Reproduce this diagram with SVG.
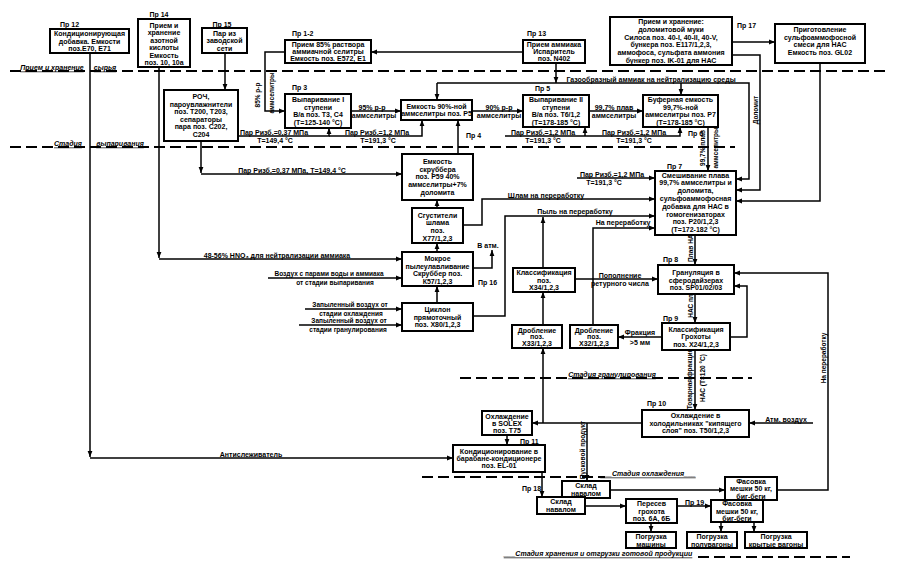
<svg xmlns="http://www.w3.org/2000/svg" width="901" height="567" viewBox="0 0 901 567">
<style>
text{font-family:"Liberation Sans",Arial,sans-serif;font-weight:bold;font-size:7px;fill:#000;text-anchor:middle;dominant-baseline:central}
.l{text-anchor:start}
.sm{font-size:6.5px}
.st{font-style:italic;text-decoration:underline;font-size:7px}
.n rect{fill:#fff;stroke:#000;stroke-width:2}
.c path{fill:none;stroke:#000;stroke-width:1.5;marker-end:url(#a)}
.d line{stroke:#000;stroke-width:2;stroke-dasharray:11 5}
</style>
<defs>
<marker id="a" viewBox="0 0 10 10" refX="10" refY="5" markerWidth="6" markerHeight="6" markerUnits="userSpaceOnUse" orient="auto"><path d="M0,1 L10,5 L0,9 z"/></marker>
</defs>
<rect width="901" height="567" fill="#fff"/>

<g id="stages" class="d">
<line x1="10" y1="71" x2="890" y2="71"/>
<line x1="10" y1="147" x2="735" y2="147"/>
<line x1="460" y1="378" x2="752" y2="378"/>
<line x1="422" y1="477" x2="605" y2="477"/>
<line x1="698" y1="557" x2="850" y2="557"/>
</g>
<g id="stage-labels">
<text class="st" x="52" y="67">Прием и хранение</text>
<text class="st" x="105" y="67">сырья</text>
<text class="st" x="68" y="143">Стадия</text>
<text class="st" x="120" y="143">выпаривания</text>
<text class="st" x="612" y="374">Стадия гранулирования</text>
<text class="st" x="648" y="473">___Стадия охлаждения___</text>
<text class="st" x="598" y="553">___Стадия хранения и отгрузки готовой продукции</text>
</g>

<g id="connectors" class="c">
<path d="M90,53 V457"/><path d="M90,458 H453"/>
<path d="M159,67 V258"/><path d="M159,259 H402"/>
<path d="M225,53 V90"/>
<path d="M201,141 V173"/><path d="M201,174 H402"/>
<path d="M238,136 H329 V128"/>
<path d="M329,136 H422 V120"/>
<path d="M285,52 H265 V111 H285"/>
<path d="M523,52 H371"/>
<path d="M556,63 V83"/>
<path d="M437,83 H749 V179 H736"/>
<path d="M437,83 V100"/>
<path d="M681,83 V95"/>
<path d="M351,111 H401"/>
<path d="M472,111 H523"/>
<path d="M589,111 H643"/>
<path d="M505,136 H680 V127"/>
<path d="M585,136 V127"/>
<path d="M708,127 V171"/>
<path d="M732,42 H775"/>
<path d="M732,55 H760 V190 H736"/>
<path d="M820,63 V201 H736"/>
<path d="M458,154 V120"/>
<path d="M437,208 V200"/>
<path d="M437,252 V243"/>
<path d="M437,303 V286"/>
<path d="M473,268 H492 V250"/>
<path d="M463,225 H482 V199 H655"/>
<path d="M473,316 H505 V216 H655"/>
<path d="M543,268 V217"/>
<path d="M543,325 V292"/>
<path d="M642,423 H532"/>
<path d="M543,423 V348"/>
<path d="M587,423 V481"/>
<path d="M575,279 H658"/>
<path d="M593,325 V228 H655"/>
<path d="M577,178 H655"/>
<path d="M695,235 V265"/>
<path d="M695,294 V323"/>
<path d="M662,337 H618"/>
<path d="M730,337 H747 V286 H734"/>
<path d="M695,350 V410"/>
<path d="M813,423 H749"/>
<path d="M507,435 V445"/>
<path d="M542,472 V497"/>
<path d="M610,490 H725"/>
<path d="M585,506 H626"/>
<path d="M677,506 H711"/>
<path d="M651,523 V532"/>
<path d="M721,522 V532"/>
<path d="M754,522 V532"/>
<path d="M777,490 H828 V273 H734"/>
<path d="M268,278 H402"/>
<path d="M305,309 H402"/>
<path d="M299,325 H402"/>
</g>

<g id="connector-labels">
<text x="274" y="132.5">Пар Ризб.=0,37 МПа</text>
<text x="275" y="140">T=149,4 °С</text>
<text x="377" y="132.5">Пар Ризб.=1,2 МПа</text>
<text x="378" y="140">T=191,3 °С</text>
<text x="543" y="132.5">Пар Ризб.=1,2 МПа</text>
<text x="543" y="140">T=191,3 °С</text>
<text x="634" y="132.5">Пар Ризб.=1,2 МПа</text>
<text x="634" y="140">T=191,3 °С</text>
<text x="292" y="170.5">Пар Ризб.=0,37 МПа, T=149,4 °С</text>
<text x="612" y="174">Пар Ризб.=1,2 МПа</text>
<text x="604" y="182">T=191,3 °С</text>
<text x="372" y="107">95% р-р</text>
<text x="374" y="115.5">аммселитры</text>
<text x="499" y="107">90% р-р</text>
<text x="499" y="115.5">аммселитры</text>
<text x="614" y="107">99,7% плав</text>
<text x="614" y="115.5">аммселитры</text>
<text x="651" y="79">Газообразный аммиак на нейтрализацию среды</text>
<text x="546" y="195">Шлам на переработку</text>
<text x="575" y="211.5">Пыль на переработку</text>
<text x="623" y="222.5">На переработку</text>
<text x="488" y="245">В атм.</text>
<text x="277" y="255.5">48-56% HNO₃ для нейтрализации аммиака</text>
<text class="sm" x="329" y="273.5">Воздух с парами воды и аммиака</text>
<text class="sm" x="335" y="282.5">от стадии выпаривания</text>
<text class="sm" x="350" y="304.5">Запыленный воздух от</text>
<text class="sm" x="351" y="313">стадии охлаждения</text>
<text class="sm" x="349" y="320.5">Запыленный воздух от</text>
<text class="sm" x="348" y="329.5">стадии гранулирования</text>
<text x="620" y="275">Пополнение</text>
<text x="620" y="283.5">ретурного числа</text>
<text x="640" y="332">Фракция</text>
<text x="640" y="342">&gt;5 мм</text>
<text x="786" y="419">Атм. воздух</text>
<text x="251" y="454">Антислеживатель</text>
<text class="sm" transform="translate(257,95) rotate(-90)">85% р-р</text>
<text class="sm" transform="translate(271,93) rotate(-90)">аммселитры</text>
<text class="sm" transform="translate(702,148) rotate(-90)">99,7% плав</text>
<text class="sm" transform="translate(715,148) rotate(-90)">аммселитры</text>
<text class="sm" transform="translate(755,110) rotate(-90)">Доломит</text>
<text class="sm" transform="translate(690,246) rotate(-90)">Плав НАС</text>
<text class="sm" transform="translate(690,305) rotate(-90)">НАС пл.</text>
<text class="sm" transform="translate(689,379) rotate(-90)">Товарная фракция</text>
<text class="sm" transform="translate(702,378) rotate(-90)">НАС (T=120 °С)</text>
<text class="sm" transform="translate(582,450) rotate(-90)">Пусковой продукт</text>
<text class="sm" transform="translate(823,358) rotate(-90)">На переработку</text>
</g>

<g id="pr12" class="n"><rect x="50" y="29" width="79" height="24"/><text class="l" x="60" y="24.5">Пр 12</text>
<text x="89.5" y="33.5">Кондиционирующая</text><text x="89.5" y="41">добавка. Емкости</text><text x="89.5" y="48.5">поз.E70, E71</text></g>
<g id="pr14" class="n"><rect x="138" y="19" width="52" height="48"/><text x="159" y="14">Пр 14</text>
<text x="164" y="25">Прием и</text><text x="164" y="32.5">хранение</text><text x="164" y="40">азотной</text><text x="164" y="47.5">кислоты</text><text x="164" y="55">Емкость</text><text x="164" y="62">поз. 10, 10а</text></g>
<g id="pr15" class="n"><rect x="202" y="28" width="45" height="25"/><text x="222" y="24.5">Пр 15</text>
<text x="224.5" y="33">Пар из</text><text x="224.5" y="40.5">заводской</text><text x="224.5" y="48">сети</text></g>
<g id="roch" class="n"><rect x="164" y="90" width="74" height="51"/>
<text x="201" y="96.5">РОЧ,</text><text x="201" y="104">пароувлажнители</text><text x="201" y="111.5">поз. Т200, Т203,</text><text x="201" y="119">сепараторы</text><text x="201" y="126.5">пара поз. С202,</text><text x="201" y="134">С204</text></g>
<g id="pr1-2" class="n"><rect x="285" y="40" width="86" height="23"/><text class="l" x="292" y="33.5">Пр 1-2</text>
<text x="328" y="44.5">Прием 85% раствора</text><text x="328" y="51.5">аммиачной селитры</text><text x="328" y="58.5">Емкость поз. E572, E1</text></g>
<g id="pr13" class="n"><rect x="523" y="40" width="62" height="23"/><text class="l" x="527" y="33.5">Пр 13</text>
<text x="554" y="44.5">Прием аммиака</text><text x="554" y="51.5">Испаритель</text><text x="554" y="58.5">поз. N402</text></g>
<g id="pr17" class="n"><rect x="610" y="17" width="122" height="48"/><text class="l" x="737" y="25">Пр 17</text>
<text x="671" y="21.5">Прием и хранение:</text><text x="671" y="29.2">доломитовой муки</text><text x="671" y="37">Силоса поз. 40-I, 40-II, 40-V,</text><text x="671" y="44.7">бункера поз. E117/1,2,3,</text><text x="671" y="52.4">аммофоса, сульфата аммония</text><text x="671" y="60">бункер поз. IK-01 для НАС</text></g>
<g id="prep" class="n"><rect x="775" y="24" width="90" height="39"/>
<text x="820" y="29.5">Приготовление</text><text x="820" y="37">сульфоаммофосной</text><text x="820" y="44.5">смеси для НАС</text><text x="820" y="52">Емкость поз. GL02</text></g>
<g id="pr3" class="n"><rect x="285" y="94" width="66" height="34"/><text class="l" x="292" y="87.5">Пр 3</text>
<text x="318" y="99.5">Выпаривание I</text><text x="318" y="107">ступени</text><text x="318" y="114.5">В/а поз. Т3, С4</text><text x="318" y="122">(T=125-140 °С)</text></g>
<g id="pr4" class="n"><rect x="401" y="100" width="71" height="20"/><text class="l" x="466" y="135">Пр 4</text>
<text x="436.5" y="106">Емкость 90%-ной</text><text x="436.5" y="113.5">аммселитры поз. Р5</text></g>
<g id="pr5" class="n"><rect x="523" y="95" width="66" height="32"/><text class="l" x="535" y="88">Пр 5</text>
<text x="556" y="99.5">Выпаривание II</text><text x="556" y="107">ступени</text><text x="556" y="114.5">В/а поз. Т6/1,2</text><text x="556" y="122">(T=178-185 °С)</text></g>
<g id="pr6" class="n"><rect x="643" y="95" width="75" height="32"/><text class="l" x="688" y="133">Пр 6</text>
<text x="680.5" y="99.5">Буферная емкость</text><text x="680.5" y="107">99,7%-ной</text><text x="680.5" y="114.5">аммселитры поз. Р7</text><text x="680.5" y="122">(T=178-185 °С)</text></g>
<g id="scrub" class="n"><rect x="402" y="154" width="71" height="46"/>
<text x="437.5" y="161.5">Емкость</text><text x="437.5" y="169.2">скруббера</text><text x="437.5" y="176.9">поз. Р59 40%</text><text x="437.5" y="184.6">аммселитры+7%</text><text x="437.5" y="192.3">доломита</text></g>
<g id="thick" class="n"><rect x="412" y="208" width="51" height="35"/>
<text x="437.5" y="215">Сгустители</text><text x="437.5" y="222.7">шлама</text><text x="437.5" y="230.4">поз.</text><text x="437.5" y="238">Х77/1,2,3</text></g>
<g id="pr16" class="n"><rect x="402" y="252" width="71" height="34"/><text class="l" x="478" y="282">Пр 16</text>
<text x="437.5" y="258.5">Мокрое</text><text x="437.5" y="266.2">пылеулавливание</text><text x="437.5" y="273.9">Скруббер поз.</text><text x="437.5" y="281.5">К57/1,2,3</text></g>
<g id="cyclone" class="n"><rect x="402" y="303" width="71" height="28"/>
<text x="437.5" y="309.5">Циклон</text><text x="437.5" y="317">прямоточный</text><text x="437.5" y="324.5">поз. Х80/1,2,3</text></g>
<g id="x34" class="n"><rect x="513" y="268" width="62" height="24"/>
<text x="544" y="272.5">Классификация</text><text x="544" y="280">поз.</text><text x="544" y="287">Х34/1,2,3</text></g>
<g id="x33" class="n"><rect x="512" y="325" width="50" height="23"/>
<text x="537" y="330">Дробление</text><text x="537" y="336.5">поз.</text><text x="537" y="343">Х33/1,2,3</text></g>
<g id="x32" class="n"><rect x="570" y="325" width="48" height="23"/>
<text x="594" y="330">Дробление</text><text x="594" y="336.5">поз.</text><text x="594" y="343">Х32/1,2,3</text></g>
<g id="pr7" class="n"><rect x="655" y="171" width="81" height="64"/><text class="l" x="667" y="166">Пр 7</text>
<text x="695.5" y="175">Смешивание плава</text><text x="695.5" y="182.8">99,7% аммселитры и</text><text x="695.5" y="190.6">доломита,</text><text x="695.5" y="198.4">сульфоаммофосная</text><text x="695.5" y="206.2">добавка для НАС в</text><text x="695.5" y="214">гомогенизаторах</text><text x="695.5" y="221.8">поз. Р20/1,2,3</text><text x="695.5" y="229.6">(T=172-182 °С)</text></g>
<g id="pr8" class="n"><rect x="658" y="265" width="76" height="29"/><text class="l" x="663" y="259">Пр 8</text>
<text x="696" y="272.5">Грануляция в</text><text x="696" y="280">сферодайзерах</text><text x="696" y="287.5">поз. SP01/02/03</text></g>
<g id="pr9" class="n"><rect x="662" y="323" width="68" height="27"/><text class="l" x="663" y="318">Пр 9</text>
<text x="696" y="329">Классификация</text><text x="696" y="336.5">Грохоты</text><text x="696" y="344">поз. Х24/1,2,3</text></g>
<g id="pr10" class="n"><rect x="642" y="410" width="107" height="27"/><text class="l" x="647" y="403">Пр 10</text>
<text x="695.5" y="415.5">Охлаждение в</text><text x="695.5" y="423">холодильниках "кипящего</text><text x="695.5" y="430.5">слоя" поз. Т50/1,2,3</text></g>
<g id="solex" class="n"><rect x="482" y="411" width="50" height="24"/>
<text x="507" y="416">Охлаждение</text><text x="507" y="423">в SOLEX</text><text x="507" y="430">поз. Т75</text></g>
<g id="pr11" class="n"><rect x="453" y="445" width="92" height="27"/><text class="l" x="520" y="441">Пр 11</text>
<text x="499" y="451.5">Кондиционирование в</text><text x="499" y="458.5">барабане-кондиционере</text><text x="499" y="465.5">поз. EL-01</text></g>
<g id="sklad2" class="n"><rect x="562" y="481" width="48" height="17"/>
<text x="586" y="485.5">Склад</text><text x="586" y="493">навалом</text></g>
<g id="pr18" class="n"><rect x="537" y="497" width="48" height="17"/><text class="l" x="522" y="488">Пр 18</text>
<text x="561" y="501.5">Склад</text><text x="561" y="509">навалом</text></g>
<g id="peresev" class="n"><rect x="626" y="499" width="51" height="24"/>
<text x="651.5" y="503.5">Пересев</text><text x="651.5" y="511">грохота</text><text x="651.5" y="518.5">поз. 6А, 6Б</text></g>
<g id="fas1" class="n"><rect x="725" y="477" width="52" height="23"/>
<text x="751" y="481">Фасовка</text><text x="751" y="488.5">мешки 50 кг,</text><text x="751" y="496">биг-беги</text></g>
<g id="pr19" class="n"><rect x="711" y="500" width="52" height="22"/><text class="l" x="685" y="502">Пр 19</text>
<text x="737" y="503.5">Фасовка</text><text x="737" y="511">мешки 50 кг,</text><text x="737" y="518">биг-беги</text></g>
<g id="pogr1" class="n"><rect x="626" y="532" width="50" height="16"/>
<text x="651" y="536.5">Погрузка</text><text x="651" y="544">машины</text></g>
<g id="pogr2" class="n"><rect x="687" y="532" width="50" height="16"/>
<text x="712" y="536.5">Погрузка</text><text x="712" y="544">полувагоны</text></g>
<g id="pogr3" class="n"><rect x="745" y="532" width="62" height="16"/>
<text x="776" y="536.5">Погрузка</text><text x="776" y="544">крытые вагоны</text></g>
</svg>
